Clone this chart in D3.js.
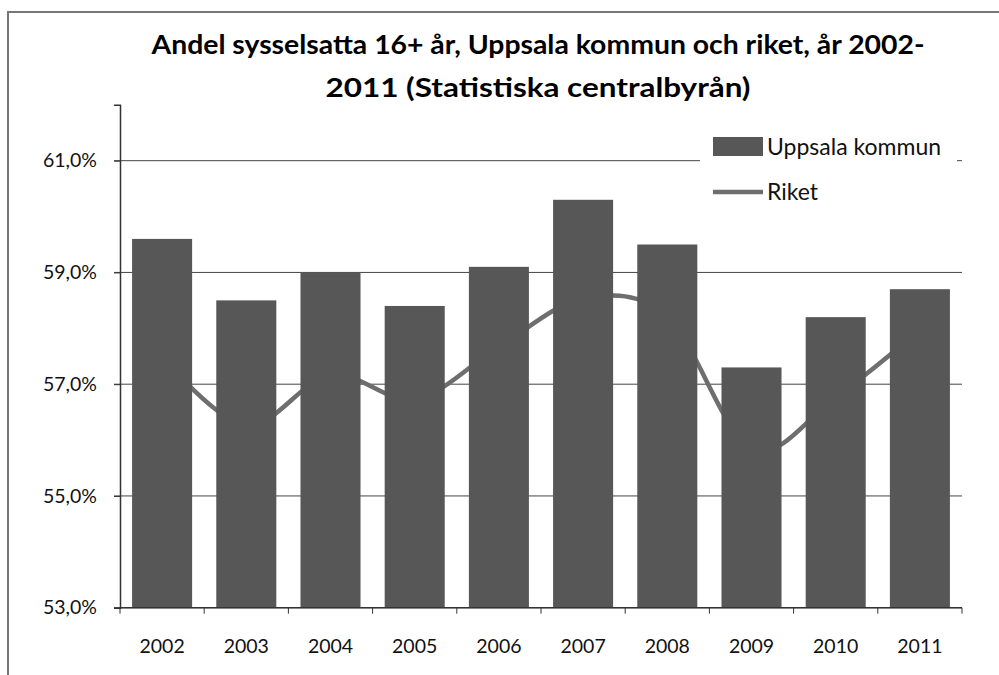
<!DOCTYPE html>
<html><head><meta charset="utf-8">
<script src="https://cdn.jsdelivr.net/npm/d3@7"></script>
<style>body{margin:0;background:#fff}svg{display:block}</style>
</head><body>
<svg id="c" width="999" height="675"></svg>
<script>
const years = ["2002","2003","2004","2005","2006","2007","2008","2009","2010","2011"];
const uppsala = [59.6, 58.5, 59.0, 58.4, 59.1, 60.3, 59.5, 57.3, 58.2, 58.7];
const riket = [57.49, 56.26, 57.17, 56.73, 57.67, 58.53, 58.21, 55.85, 56.77, 57.97];
const yTicks = [53, 55, 57, 59, 61];
const titleLines = ["Andel sysselsatta 16+ år, Uppsala  kommun och riket, år 2002-", "2011 (Statistiska centralbyrån)"];
const seriesNames = ["Uppsala kommun", "Riket"];

const svg = d3.select("#c");
const FONT = "Lato, 'Open Sans', sans-serif";
const BAR = "#575757", LINE = "#6e6e6e";
const x = d3.scaleBand().domain(years).range([120, 962]).paddingInner(0.287).paddingOuter(0.1435);
const y = d3.scaleLinear().domain([53, 62]).range([607.7, 104.8]);
const cx = i => x(years[i]) + x.bandwidth()/2;

// frame
svg.append("rect").attr("x",8).attr("y",12).attr("width",1000).attr("height",700)
  .attr("fill","none").attr("stroke","#777").attr("stroke-width",2);

// title
const tl = [{y:54, len:773}, {y:97, len:425}];
svg.append("g").selectAll("text").data(titleLines).join("text")
  .attr("x",538).attr("y",(d,i)=>tl[i].y).attr("text-anchor","middle")
  .attr("font-family",FONT).attr("font-weight","bold").attr("font-size",26).attr("fill","#000")
  .attr("textLength",(d,i)=>tl[i].len).attr("lengthAdjust","spacingAndGlyphs").text(d=>d);

// gridlines
svg.append("g").selectAll("line").data(yTicks).join("line")
  .attr("x1",114).attr("x2",962).attr("y1",d=>y(d)).attr("y2",d=>y(d))
  .attr("stroke","#444").attr("stroke-width",1);

// Riket line (drawn behind bars)
svg.append("path").datum(riket).attr("fill","none").attr("stroke",LINE).attr("stroke-width",4.5)
  .attr("d", d3.line().x((d,i)=>cx(i)).y(d=>y(d)).curve(d3.curveCardinal.tension(0)));

// bars
svg.append("g").selectAll("rect").data(uppsala).join("rect")
  .attr("x",(d,i)=>x(years[i])).attr("width",x.bandwidth())
  .attr("y",d=>y(d)).attr("height",d=>y(53)-y(d)).attr("fill",BAR);

// y axis
const yAxis = d3.axisLeft(y).tickValues(yTicks).tickSize(6)
  .tickFormat(d=>d3.format(".1f")(d).replace(".",",")+"%");
const gy = svg.append("g").attr("transform","translate(120,0)").call(yAxis);
gy.select(".domain").attr("stroke","#333").attr("stroke-width",1.5);
gy.selectAll(".tick line").attr("stroke","#333");
gy.selectAll(".tick text").attr("font-family",FONT).attr("font-size",19.5).attr("fill","#111").attr("x",-23);

// x axis
const gx = svg.append("g").attr("transform",`translate(0,${y(53)})`);
gx.append("line").attr("x1",120).attr("x2",962).attr("stroke","#333").attr("stroke-width",1.5);
gx.selectAll(".tk").data(d3.range(years.length+1)).join("line").attr("class","tk")
  .attr("x1",i=>120+i*x.step()).attr("x2",i=>120+i*x.step()).attr("y1",0).attr("y2",6).attr("stroke","#333");
gx.selectAll(".lb").data(years).join("text").attr("class","lb")
  .attr("x",d=>x(d)+x.bandwidth()/2).attr("y",45)
  .attr("text-anchor","middle").attr("font-family",FONT).attr("font-size",19.5).attr("fill","#111").text(d=>d);

// legend
const lg = svg.append("g");
lg.append("rect").attr("x",700).attr("y",130).attr("width",257).attr("height",78).attr("fill","#fff");
lg.append("rect").attr("x",713).attr("y",137).attr("width",50).attr("height",19).attr("fill",BAR);
lg.append("text").attr("x",767).attr("y",155).attr("font-family",FONT).attr("font-size",23).attr("fill","#111").text(seriesNames[0]);
lg.append("line").attr("x1",713).attr("x2",763).attr("y1",192).attr("y2",192).attr("stroke",LINE).attr("stroke-width",4.5);
lg.append("text").attr("x",767).attr("y",200).attr("font-family",FONT).attr("font-size",23).attr("fill","#111").text(seriesNames[1]);
</script>
</body></html>
